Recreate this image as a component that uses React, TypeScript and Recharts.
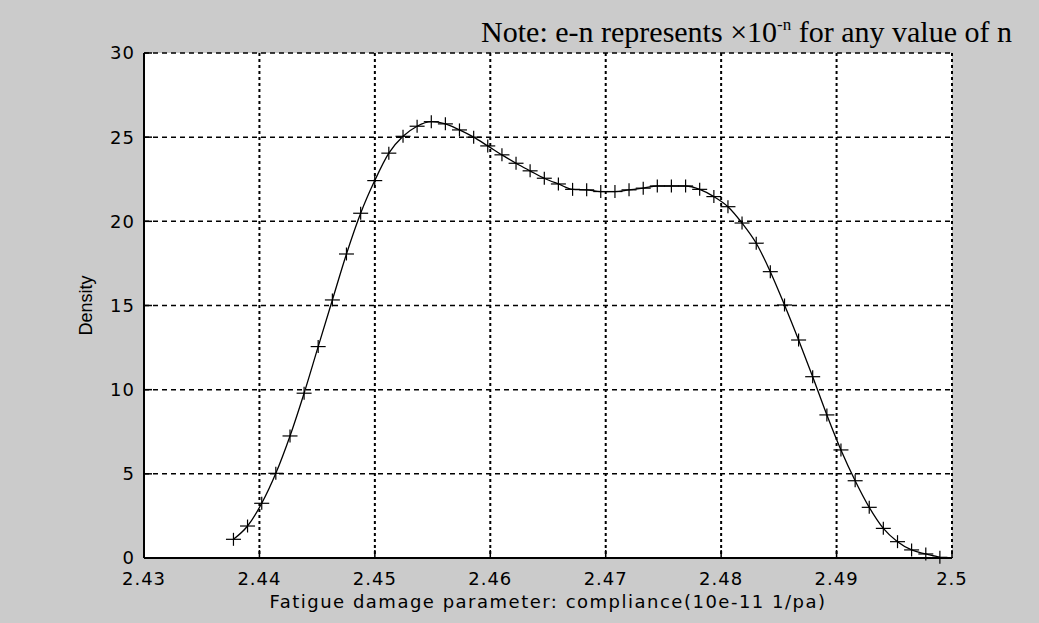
import { CartesianGrid, Line, LineChart, XAxis, YAxis } from "recharts";

// ============================================
// Data
// ============================================

const compliance = [
  2.43775, 2.43897, 2.4402, 2.44142, 2.44265, 2.44387, 2.44509, 2.44632, 2.44754, 2.44877,
  2.44999, 2.45121, 2.45244, 2.45366, 2.45489, 2.45611, 2.45733, 2.45856, 2.45978, 2.46101,
  2.46223, 2.46345, 2.46468, 2.4659, 2.46713, 2.46835, 2.46957, 2.4708, 2.47202, 2.47325,
  2.47447, 2.47569, 2.47692, 2.47814, 2.47937, 2.48059, 2.48181, 2.48304, 2.48426, 2.48549,
  2.48671, 2.48793, 2.48916, 2.49038, 2.49161, 2.49283, 2.49405, 2.49528, 2.4965, 2.49773,
  2.49895,
];

const density = [
  1.11, 1.9, 3.25, 5.03, 7.25, 9.79, 12.56, 15.33, 18.06, 20.48,
  22.42, 24.05, 25.05, 25.65, 25.92, 25.79, 25.43, 25.0, 24.48, 23.95,
  23.45, 23.0, 22.56, 22.22, 21.9, 21.87, 21.77, 21.77, 21.87, 21.97,
  22.1, 22.1, 22.1, 21.9, 21.47, 20.87, 19.9, 18.7, 17.01, 15.03,
  12.95, 10.77, 8.5, 6.42, 4.59, 3.01, 1.76, 0.97, 0.48, 0.24,
  0.04,
];

const xTicks = [2.43, 2.44, 2.45, 2.46, 2.47, 2.48, 2.49, 2.5];
const yTicks = [0, 5, 10, 15, 20, 25, 30];

const data = compliance.map((x, i) => ({ x, y: density[i] }));

// ============================================
// Styles
// ============================================

const W = 1039;
const H = 623;
const BG = "#cbcbcb";
const INK = "#000";
const TICK_FONT = {
  fill: INK,
  fontSize: 18,
  fontFamily: "DejaVu Sans, sans-serif",
  letterSpacing: 1,
};

// "+" marker, like MATLAB's '+-'
function PlusDot(props: { cx?: number; cy?: number }) {
  const { cx, cy } = props;
  if (cx == null || cy == null) {
    return null;
  }
  return (
    <g>
      <line x1={cx - 7.5} x2={cx + 7.5} y1={cy} y2={cy} stroke={INK} strokeWidth={1.2} />
      <line x1={cx} x2={cx} y1={cy - 6.5} y2={cy + 6.5} stroke={INK} strokeWidth={1.2} />
    </g>
  );
}

export default function App() {
  return (
    <div
      style={{
        position: "absolute",
        left: 0,
        top: 0,
        width: W,
        height: H,
        background: BG,
        overflow: "hidden",
      }}
    >
      <div
        style={{
          position: "absolute",
          right: 27,
          top: 15,
          fontFamily: "Liberation Serif, Times New Roman, serif",
          fontSize: 30,
          lineHeight: "34px",
          color: INK,
          whiteSpace: "nowrap",
        }}
      >
        Note: e-n represents ×10
        <span style={{ fontSize: 17, position: "relative", top: -12 }}>-n</span> for any value of n
      </div>

      <LineChart width={W} height={H} data={data} margin={{ top: 53, right: 87, bottom: 0, left: 0 }}>
        <CartesianGrid fill="#fff" vertical={false} stroke={INK} strokeDasharray="5 4" strokeWidth={1.5} />
        <CartesianGrid horizontal={false} stroke={INK} strokeDasharray="3 3" strokeWidth={2} />

        <XAxis
          dataKey="x"
          type="number"
          domain={[2.43, 2.5]}
          ticks={xTicks}
          height={65}
          tickSize={-8}
          tickMargin={22}
          tick={TICK_FONT}
          axisLine={{ stroke: INK, strokeWidth: 2 }}
          tickLine={{ stroke: INK, strokeWidth: 1.5 }}
          interval={0}
          label={{
            value: "Fatigue damage parameter: compliance(10e-11 1/pa)",
            position: "insideBottom",
            offset: 15,
            fill: INK,
            fontSize: 18,
            letterSpacing: 1.5,
            fontFamily: "DejaVu Sans, sans-serif",
          }}
        />
        <XAxis
          xAxisId="top"
          orientation="top"
          dataKey="x"
          type="number"
          domain={[2.43, 2.5]}
          ticks={xTicks}
          height={0}
          tickSize={-8}
          tick={false}
          axisLine={{ stroke: INK, strokeWidth: 2 }}
          tickLine={{ stroke: INK, strokeWidth: 1.5 }}
        />
        <YAxis
          type="number"
          domain={[0, 30]}
          ticks={yTicks}
          width={144}
          tickSize={-8}
          tickMargin={17}
          tick={TICK_FONT}
          interval={0}
          axisLine={{ stroke: INK, strokeWidth: 2 }}
          tickLine={{ stroke: INK, strokeWidth: 1.5 }}
          label={{
            value: "Density",
            angle: -90,
            position: "insideLeft",
            offset: 86,
            fill: INK,
            fontSize: 18,
            fontFamily: "Liberation Sans, Arial, sans-serif",
            style: { textAnchor: "middle" },
          }}
        />
        <YAxis
          yAxisId="right"
          orientation="right"
          type="number"
          domain={[0, 30]}
          ticks={yTicks}
          width={0}
          tickSize={-8}
          tick={false}
          axisLine={{ stroke: INK, strokeWidth: 2 }}
          tickLine={{ stroke: INK, strokeWidth: 1.5 }}
        />

        <Line
          dataKey="y"
          type="monotone"
          stroke={INK}
          strokeWidth={1.3}
          isAnimationActive={false}
          dot={(p: any) => <PlusDot key={`d-${p.index}`} cx={p.cx} cy={p.cy} />}
          activeDot={false}
        />
        <Line
          dataKey="y"
          xAxisId="top"
          yAxisId="right"
          stroke="none"
          dot={false}
          activeDot={false}
          isAnimationActive={false}
        />
      </LineChart>
    </div>
  );
}
